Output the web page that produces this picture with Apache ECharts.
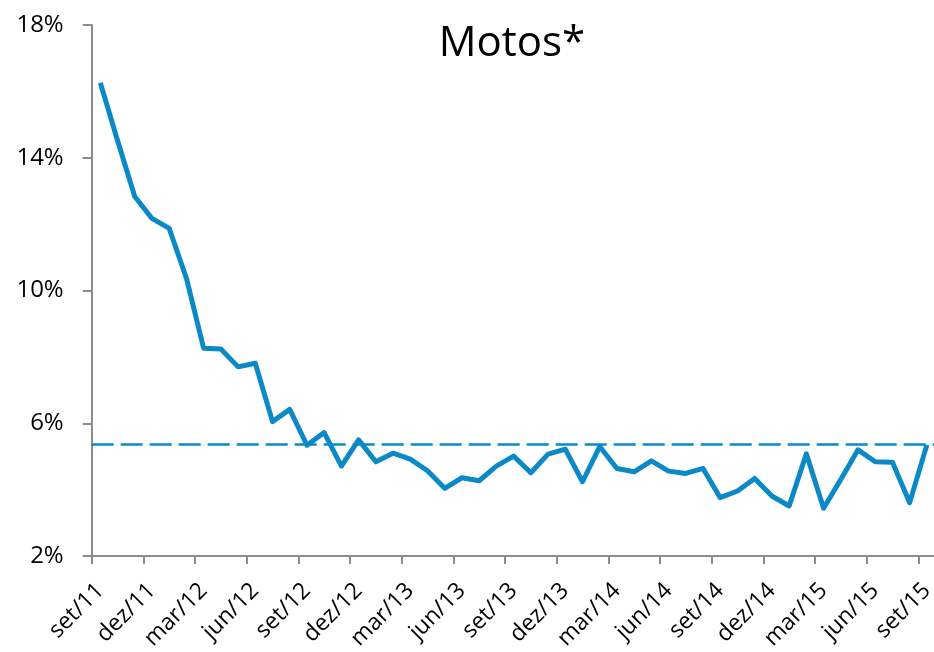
<!DOCTYPE html>
<html>
<head>
<meta charset="utf-8">
<script src="https://cdn.jsdelivr.net/npm/echarts@6/dist/echarts.min.js"></script>
<style>
html,body{margin:0;padding:0;background:#fff;}
#chart{width:934px;height:652px;}
</style>
</head>
<body>
<div id="chart"></div>
<script>
const titleText = 'Motos*';
const categories = [
  'set/11','out/11','nov/11','dez/11','jan/12','fev/12','mar/12','abr/12','mai/12','jun/12','jul/12','ago/12',
  'set/12','out/12','nov/12','dez/12','jan/13','fev/13','mar/13','abr/13','mai/13','jun/13','jul/13','ago/13',
  'set/13','out/13','nov/13','dez/13','jan/14','fev/14','mar/14','abr/14','mai/14','jun/14','jul/14','ago/14',
  'set/14','out/14','nov/14','dez/14','jan/15','fev/15','mar/15','abr/15','mai/15','jun/15','jul/15','ago/15',
  'set/15'
];
const motosValues = [
  16.26, 14.52, 12.83, 12.17, 11.87, 10.37, 8.26, 8.24, 7.70, 7.81, 6.05, 6.42,
  5.34, 5.72, 4.71, 5.50, 4.84, 5.10, 4.92, 4.57, 4.04, 4.36, 4.27, 4.71,
  5.01, 4.51, 5.07, 5.22, 4.24, 5.30, 4.64, 4.54, 4.87, 4.56, 4.49, 4.64,
  3.76, 3.96, 4.34, 3.81, 3.51, 5.08, 3.44, 4.31, 5.20, 4.84, 4.83, 3.61,
  5.35
];
const referenceLevel = [5.38];
const yTicks = [2, 6, 10, 14, 18];

const blue = '#0A89C6';
const axisGray = '#8C8C8C';
const font = '"Open Sans", "Liberation Sans", sans-serif';

const chart = echarts.init(document.getElementById('chart'), null, {renderer: 'canvas'});
chart.setOption({
  animation: false,
  backgroundColor: '#ffffff',
  title: {
    text: titleText,
    left: 507,
    top: 18,
    textAlign: 'center',
    textStyle: {fontFamily: font, fontSize: 42, fontWeight: 'normal', color: '#000'}
  },
  grid: {left: 91.7, top: 24.9, width: 843.8, bottom: 95.9, containLabel: false, outerBoundsMode: 'none'},
  xAxis: {
    type: 'category',
    data: categories,
    boundaryGap: true,
    axisLine: {show: true, lineStyle: {color: axisGray, width: 2}},
    axisTick: {show: true, interval: 2, length: 8, alignWithLabel: false, lineStyle: {color: axisGray, width: 2}},
    axisLabel: {
      interval: 2,
      rotate: 45,
      margin: 31,
      fontFamily: font,
      fontSize: 23,
      color: '#000'
    },
    splitLine: {show: false}
  },
  yAxis: {
    type: 'value',
    min: yTicks[0],
    max: yTicks[yTicks.length - 1],
    axisLine: {show: true, lineStyle: {color: axisGray, width: 2}},
    axisTick: {show: true, length: 9, customValues: yTicks, lineStyle: {color: axisGray, width: 2}},
    axisLabel: {
      customValues: yTicks,
      formatter: v => v + '%',
      margin: 28,
      fontFamily: font,
      fontSize: 24,
      color: '#000'
    },
    splitLine: {show: false}
  },
  series: [{
    type: 'line',
    data: motosValues,
    symbol: 'none',
    lineStyle: {color: blue, width: 5, join: 'round'},
    itemStyle: {color: blue},
    markLine: {
      silent: true,
      symbol: ['none', 'none'],
      label: {show: false},
      lineStyle: {color: blue, width: 2.5, type: [22, 7]},
      data: [{yAxis: referenceLevel[0]}]
    }
  }]
});
</script>
</body>
</html>
